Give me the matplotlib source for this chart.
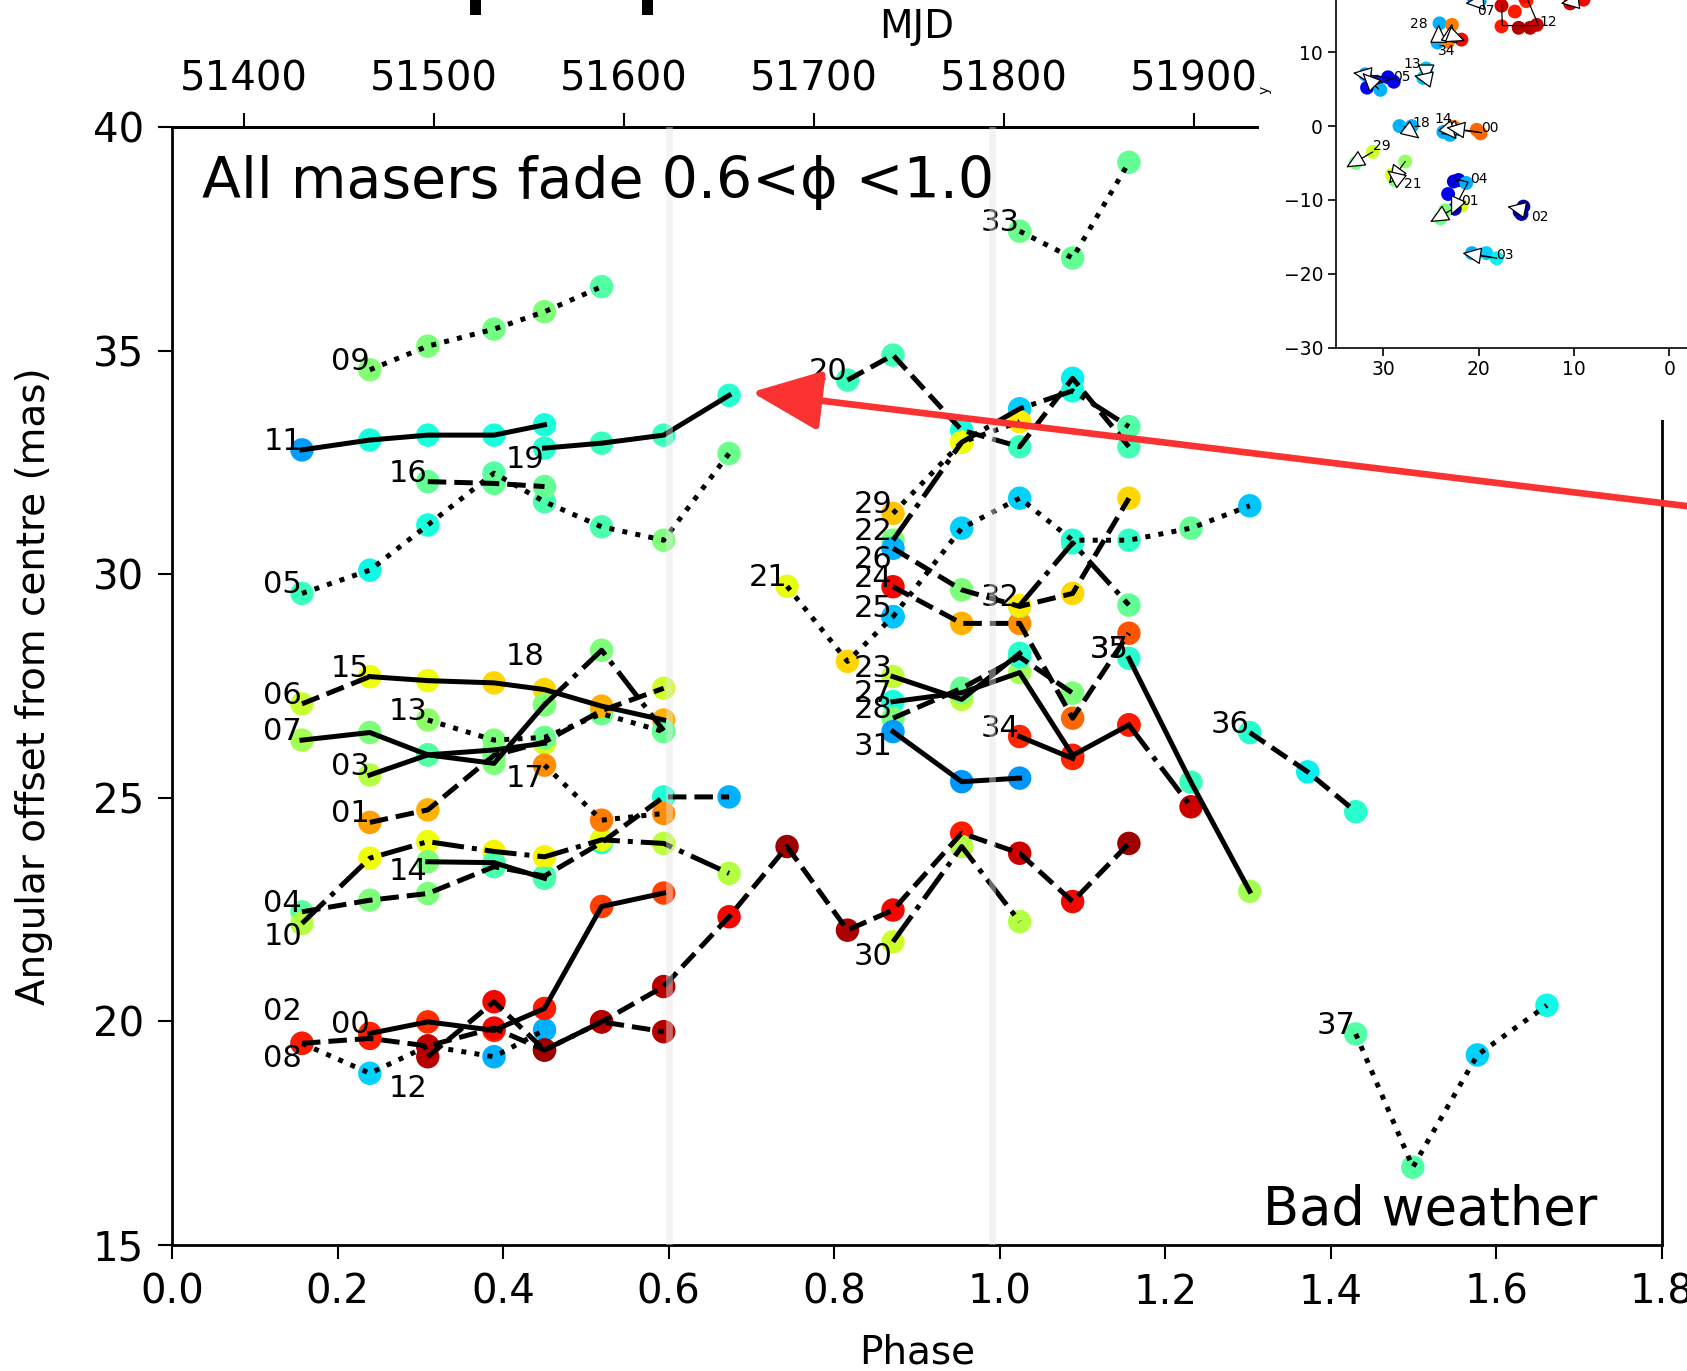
import matplotlib
matplotlib.use("Agg")
import matplotlib.pyplot as plt
from matplotlib.patches import Rectangle
from matplotlib.ticker import FormatStrFormatter

# phase of each observing epoch
epoch_phase = [0.157, 0.239, 0.309, 0.389, 0.450, 0.519, 0.594, 0.673, 0.743, 0.816,
               0.871, 0.954, 1.024, 1.088, 1.156, 1.231, 1.302, 1.372, 1.430, 1.499,
               1.577, 1.661]

# MJD = mjd_zero + period * phase
mjd_zero = 51362.2
period = 435.5

# one entry per maser feature: id, first epoch it is seen, offsets (mas), colour (jet scale)
maser_ids = ["00", "01", "02", "03", "04", "05", "06", "07", "08", "09",
             "10", "11", "12", "13", "14", "15", "16", "17", "18", "19",
             "20", "21", "22", "23", "24", "25", "26", "27", "28", "29",
             "30", "31", "32", "33", "34", "35", "36", "37", ""]

first_epoch = [1, 1, 0, 1, 0, 0, 0, 0, 0, 1,
               0, 0, 2, 2, 2, 1, 2, 4, 4, 4,
               9, 8, 10, 10, 10, 10, 10, 10, 10, 10,
               10, 10, 12, 12, 12, 14, 16, 18, 14]

offsets = [
    [19.73, 19.99, 19.80, 20.29, 22.57, 22.87],
    [24.45, 24.73, 25.95, 26.25, 26.95, 27.45],
    [19.51, 19.62, 19.45, 19.85, 19.36, 19.99, 19.77],
    [25.51, 25.96, 26.07, 26.22],
    [22.45, 22.71, 22.86, 23.46, 23.25, 24.00, 25.02, 25.02],
    [29.57, 30.09, 31.10, 32.26, 31.62, 31.06, 30.76, 32.70],
    [27.10, 27.71],
    [26.29, 26.46, 25.96, 25.77, 27.08],
    [19.51, 18.84, 19.45, 19.21, 19.81],
    [34.57, 35.10, 35.48, 35.87, 36.43],
    [22.19, 23.65, 24.02, 23.80, 23.68, 24.06, 23.98, 23.31],
    [32.78, 33.00, 33.11, 33.11, 33.34],
    [19.21, 20.44, 19.36, 19.99, 20.78, 22.34, 23.91, 22.04, 22.49, 24.21, 23.76, 22.68, 23.98],
    [26.74, 26.29, 26.35, 26.88, 26.48],
    [23.57, 23.55, 23.20],
    [27.71, 27.62, 27.57, 27.42, 27.05, 26.74],
    [32.07, 32.03, 31.96],
    [25.73, 24.50, 24.65],
    [27.08, 28.30, 26.50],
    [32.82, 32.93, 33.11, 34.00],
    [34.34, 34.90, 33.22, 32.85, 34.38, 32.85],
    [29.73, 28.05, 29.05],
    [30.76, 32.95, 33.70, 34.10, 33.30],
    [27.71, 27.20, 28.23],
    [29.72, 28.90, 28.90, 26.78, 28.68],
    [29.05, 31.03, 31.70, 30.76, 30.76, 31.03, 31.53],
    [30.58, 29.65, 29.28, 29.57, 31.70],
    [27.15, 27.35, 27.80, 25.95, 26.63],
    [26.78, 27.45, 28.15, 27.34],
    [31.36, 32.95, 33.41],
    [21.78, 23.91, 22.23],
    [26.48, 25.36, 25.44],
    [29.30, 30.70, 29.31],
    [37.67, 37.07, 39.21],
    [26.37, 25.88],
    [28.12, 25.35, 22.91],
    [26.46, 25.58, 24.69],
    [19.72, 16.74, 19.25, 20.36],
    [26.63, 24.80],
]

velocity_colour = [
    [0.87, 0.86, 0.87, 0.88, 0.84, 0.84],
    [0.74, 0.72, 0.50, 0.60, 0.74, 0.60],
    [0.88, 0.88, 0.94, 0.90, 0.96, 0.94, 0.95],
    [0.57, 0.43, 0.50, 0.60],
    [0.46, 0.50, 0.50, 0.44, 0.44, 0.38, 0.39, 0.30],
    [0.42, 0.37, 0.38, 0.45, 0.44, 0.44, 0.50, 0.48],
    [0.59, 0.63],
    [0.55, 0.50, 0.45, 0.50, 0.50],
    [0.30, 0.33, 0.93, 0.30, 0.30],
    [0.51, 0.50, 0.49, 0.50, 0.45],
    [0.57, 0.64, 0.64, 0.65, 0.65, 0.63, 0.58, 0.57],
    [0.28, 0.38, 0.38, 0.38, 0.38],
    [0.95, 0.90, 0.97, 0.95, 0.95, 0.90, 0.97, 0.96, 0.90, 0.88, 0.93, 0.90, 0.97],
    [0.52, 0.50, 0.48, 0.48, 0.48],
    [0.50, 0.44, 0.44],
    [0.64, 0.64, 0.68, 0.68, 0.72, 0.72],
    [0.47, 0.47, 0.47],
    [0.76, 0.78, 0.76],
    [0.50, 0.50, 0.47],
    [0.40, 0.42, 0.42, 0.40],
    [0.42, 0.43, 0.38, 0.42, 0.36, 0.43],
    [0.63, 0.68, 0.32],
    [0.50, 0.65, 0.33, 0.38, 0.45],
    [0.58, 0.58, 0.40],
    [0.90, 0.72, 0.76, 0.80, 0.82],
    [0.32, 0.33, 0.33, 0.38, 0.41, 0.47, 0.32],
    [0.30, 0.50, 0.48, 0.68, 0.68],
    [0.38, 0.50, 0.55, 0.88, 0.88],
    [0.50, 0.47, 0.40, 0.50],
    [0.70, 0.64, 0.66],
    [0.60, 0.57, 0.57],
    [0.28, 0.27, 0.27],
    [0.66, 0.40, 0.47],
    [0.48, 0.47, 0.47],
    [0.87, 0.87],
    [0.40, 0.42, 0.55],
    [0.40, 0.36, 0.40],
    [0.45, 0.45, 0.33, 0.37],
    [0.88, 0.93],
]

line_style = {
    "00": "-", "01": "--", "02": "--", "03": "-", "04": "--", "05": ":", "06": "--",
    "07": "-", "08": ":", "09": ":", "10": "-.", "11": "-", "12": "--", "13": ":",
    "14": "-", "15": "-", "16": "--", "17": ":", "18": "-.", "19": "-", "20": "--",
    "21": ":", "22": "-.", "23": "-", "24": "--", "25": ":", "26": "--", "27": "-",
    "28": "--", "29": ":", "30": "-.", "31": "-", "32": "-.", "33": ":", "34": "-",
    "35": "-", "36": "--", "37": ":", "": "-.",
}

# labels that sit above/below their first point rather than on it
label_shift = {"19": -0.45, "18": 0.88, "17": -0.48, "14": -0.41, "10": -0.48,
               "02": 0.52, "08": -0.52, "12": -0.89, "26": -0.45, "31": -0.52,
               "30": -0.52}

# inset: sky positions of the features (x, y in mas) and their proper motions
inset_x = [20.5, 19.9, 17.6, 16.2, 15.0, 17.6, 15.8, 14.6, 13.9, 15.2, 10.4, 9.0,
           24.1, 24.3, 22.8, 23.2, 21.8, 25.5, 25.8, 29.5, 28.9, 30.7, 31.7, 30.3, 31.9,
           28.3, 27.0, 23.7, 23.0, 22.6, 20.2, 19.8, 31.1, 32.9, 27.7, 28.8, 29.1,
           22.6, 22.1, 21.3, 23.2, 21.8, 22.5, 23.5, 24.0, 15.3, 15.7, 15.5,
           20.7, 19.2, 18.1]
inset_y = [17.3, 16.9, 16.3, 15.5, 16.9, 13.5, 13.3, 13.3, 13.7, 17.5, 16.6, 17.1,
           13.9, 11.3, 13.7, 11.4, 11.7, 7.8, 6.5, 6.6, 6.0, 6.0, 5.2, 4.9, 7.0,
           0.0, 0.0, -0.8, -1.2, -0.1, -0.5, -1.0, -3.5, -5.0, -4.8, -7.3, -6.6,
           -7.5, -7.3, -7.7, -9.2, -10.8, -11.2, -11.4, -12.5, -10.9, -11.6, -11.9,
           -17.2, -17.2, -17.9]
inset_c = [0.25, 0.28, 0.93, 0.88, 0.87, 0.88, 0.95, 0.95, 0.93, 0.90, 0.93, 0.90,
           0.30, 0.30, 0.78, 0.78, 0.90, 0.32, 0.32, 0.10, 0.10, 0.15, 0.12, 0.30, 0.28,
           0.30, 0.30, 0.30, 0.30, 0.78, 0.80, 0.80, 0.60, 0.50, 0.53, 0.50, 0.62,
           0.08, 0.08, 0.30, 0.10, 0.62, 0.06, 0.50, 0.48, 0.03, 0.03, 0.04,
           0.30, 0.33, 0.36]

inset_tracks = [
    [(17.6, 16.3), (17.5, 13.6), (13.7, 13.6), (15.0, 17.5)],
    [(28.9, 6.5), (31.5, 5.3)],
    [(22.4, -7.4), (22.0, -7.3), (21.1, -7.6), (22.8, -11.8)],
    [(18.1, -17.9), (20.9, -17.2)],
    [(19.7, -0.9), (23.0, -0.4)],
]

motion_start = [(19.7, 16.8), (9.8, 16.9), (24.2, 11.5), (23.1, 11.5), (23.2, 12.4),
                (25.5, 7.9), (25.3, 6.4), (29.3, 6.5), (30.5, 5.0), (27.8, -0.1),
                (22.3, -0.3), (23.3, -0.3), (20.0, -0.8), (31.1, -3.5), (27.7, -4.8),
                (28.5, -7.1), (22.4, -11.0), (22.3, -10.4), (15.4, -11.3), (18.6, -17.8)]
motion_end = [(21.4, 16.6), (11.4, 16.6), (24.2, 13.8), (22.8, 13.9), (21.4, 11.5),
              (25.5, 5.8), (26.8, 6.8), (33.2, 7.2), (32.2, 7.2), (26.2, -1.7),
              (24.0, -1.1), (22.3, -1.8), (23.4, -0.2), (33.9, -5.6), (29.4, -7.8),
              (29.6, -6.0), (25.1, -13.0), (22.9, -12.1), (17.0, -10.9), (21.7, -17.2)]

inset_names = ["07", "12", "28", "34", "13", "05", "18", "14", "00", "29",
               "21", "04", "01", "02", "03"]
inset_name_x = [19.2, 12.7, 26.3, 23.4, 27.0, 28.1, 26.0, 23.7, 18.8, 30.2,
                26.9, 20.0, 20.9, 13.6, 17.2]
inset_name_y = [15.6, 14.1, 13.8, 10.1, 8.4, 6.7, 0.45, 0.9, -0.3, -2.7,
                -7.8, -7.2, -10.2, -12.3, -17.5]


jet = plt.get_cmap("jet")

fig = plt.figure(figsize=(16.87, 13.71), dpi=100)
ax = fig.add_axes([0.10196, 0.09190, 0.88322, 0.81547])
ax.set_zorder(0)

for mid, start, ys, cs in zip(maser_ids, first_epoch, offsets, velocity_colour):
    xs = epoch_phase[start:start + len(ys)]
    # 08 sits underneath 02 where they coincide
    dot_z = 1.9 if mid == "08" else 2
    ax.scatter(xs, ys, s=285, c=[jet(v) for v in cs], linewidths=0, zorder=dot_z)
    ax.plot(xs, ys, color="k", lw=3.6, ls=line_style[mid], zorder=3)
    if mid:
        ax.text(xs[0], ys[0] + label_shift.get(mid, 0.0), mid, fontsize=22,
                ha="right", va="baseline", zorder=4)
# two features share the spot at phase 1.16
ax.text(epoch_phase[14], 28.12, "37", fontsize=22, ha="right", va="baseline", zorder=4)

# phases 0.6 and 1.0 marked faintly
for ph in (0.6, 0.991):
    ax.axvline(ph, color="#e6e6e6", alpha=0.45, lw=4.8, zorder=5)

ax.text(0.036, 38.41, "All masers fade 0.6<\u03d5 <1.0", fontsize=41,
        ha="left", va="baseline", zorder=6)
ax.text(1.318, 15.46, "Bad weather", fontsize=38, ha="left", va="baseline", zorder=6)

ax.annotate("", xy=(0.700, 34.07), xytext=(2.0, 31.14), annotation_clip=False,
            arrowprops=dict(arrowstyle="-|>,head_length=4.3,head_width=1.85",
                            color="#fb3232", lw=4.8, shrinkA=0, shrinkB=0,
                            mutation_scale=10),
            zorder=7)

ax.set_xlim(0, 1.8)
ax.set_ylim(15, 40)
ax.set_xticks([0.0, 0.2, 0.4, 0.6, 0.8, 1.0, 1.2, 1.4, 1.6, 1.8])
ax.set_yticks([15, 20, 25, 30, 35, 40])
ax.tick_params(direction="out", length=10, width=1.5, labelsize=29, pad=10, top=False)
for sp in ax.spines.values():
    sp.set_linewidth(2)
ax.set_xlabel("Phase", fontsize=28, labelpad=15)
ax.set_ylabel("Angular offset from centre (mas)", fontsize=28, labelpad=29)

mjd = ax.secondary_xaxis("top", functions=(lambda p: mjd_zero + period * p,
                                           lambda m: (m - mjd_zero) / period))
mjd.set_xticks(list(range(51400, 52200, 100)))
mjd.xaxis.set_major_formatter(FormatStrFormatter("%d"))
mjd.tick_params(direction="out", length=10, width=1.5, labelsize=29, pad=10)
mjd.spines["top"].set_linewidth(2)
mjd.set_xlabel("MJD", fontsize=28, labelpad=15)

# white panel holding the sky map of the features
fig.add_artist(Rectangle((0.7463, 0.6937), 0.26, 0.31, transform=fig.transFigure,
                         facecolor="white", edgecolor="none", zorder=1))
fig.text(1265 / 1687, 1 - 90 / 1371, "y", rotation=90, fontsize=10,
         ha="center", va="center", zorder=3)

# tails of the title letters above the plot
for left in (470, 642):
    fig.add_artist(Rectangle((left / 1687, 1 - 15 / 1371), 11 / 1687, 15 / 1371,
                             transform=fig.transFigure, facecolor="k",
                             edgecolor="none", zorder=1))

ins = fig.add_axes([0.79170, 0.74639, 0.22608, 0.26944])
ins.set_zorder(2)
ins.scatter(inset_x, inset_y, s=100, c=[jet(v) for v in inset_c], linewidths=0, zorder=2)
for tr in inset_tracks:
    ins.plot([p[0] for p in tr], [p[1] for p in tr], color="k", lw=0.9, zorder=3)
for a, b in zip(motion_start, motion_end):
    ins.annotate("", xy=b, xytext=a,
                 arrowprops=dict(arrowstyle="-|>,head_length=1.2,head_width=0.55",
                                 fc="white", ec="k", lw=0.9, shrinkA=0, shrinkB=0,
                                 mutation_scale=10), zorder=4)
for name, lx, ly in zip(inset_names, inset_name_x, inset_name_y):
    ins.text(lx, ly, name, fontsize=10, ha="center", va="center", zorder=5)
ins.set_xlim(35, -5)
ins.set_ylim(-30, 20)
ins.set_xticks([30, 20, 10, 0])
ins.set_yticks([-30, -20, -10, 0, 10])
ins.tick_params(direction="out", length=5.5, width=1.2, labelsize=13.5)
for sp in ins.spines.values():
    sp.set_linewidth(1.2)

fig.savefig("out.png", dpi=100)
